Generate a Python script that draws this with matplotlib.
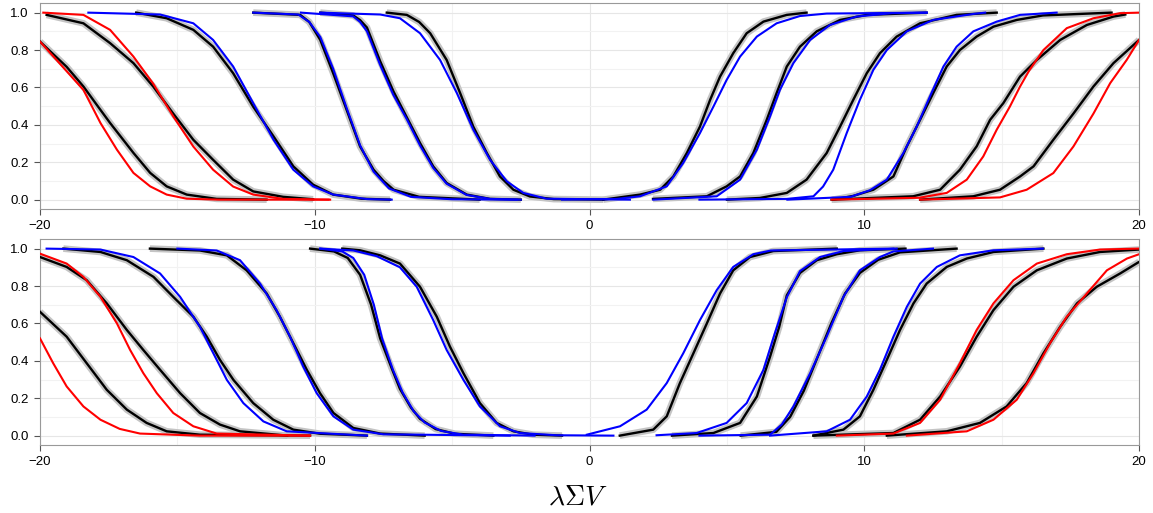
import matplotlib.pyplot as plt
import numpy as np

# curves as (x, y) points
# ---- top panel ----
top_a_black = [(-20, .845), (-19.03, .71), (-18.42, .605), (-17.9, .5), (-17.45, .41), (-16.6, .25),
               (-15.99, .143), (-15.39, .071), (-14.66, .027), (-13.57, .004), (-11.75, 0)]
top_a_red = [(-20, .845), (-18.42, .587), (-17.8, .41), (-17.2, .267), (-16.6, .143), (-15.99, .071),
             (-15.39, .027), (-14.66, .005), (-13.5, 0), (-9.44, 0)]
top_b_black = [(-19.76, .988), (-18.42, .943), (-17.45, .837), (-16.6, .73), (-15.88, .605), (-15.15, .46),
               (-14.42, .32), (-13.7, .213), (-12.97, .107), (-12.24, .044), (-11.15, .015), (-10.06, .002)]
top_b_red = [(-19.88, 1.0), (-18.42, .988), (-17.45, .908), (-16.6, .765), (-15.88, .62), (-15.15, .445),
             (-14.42, .284), (-13.7, .16), (-12.97, .07), (-12.24, .027), (-11.15, .004), (-9.5, 0)]
top_c_black = [(-16.5, 1.0), (-15.39, .97), (-14.42, .908), (-13.7, .818), (-12.97, .676), (-12.24, .497),
               (-11.5, .338), (-10.78, .178), (-10.06, .08), (-9.33, .027), (-8.3, .005), (-7.26, 0)]
top_c_blue = [(-18.24, 1.0), (-15.63, .99), (-14.42, .943), (-13.7, .854), (-12.97, .712), (-12.24, .516),
              (-11.5, .32), (-10.78, .16), (-10.06, .071), (-9.33, .027), (-8.1, .003), (-7.2, 0)]
top_d_black = [(-12.24, 1.0), (-10.53, .988), (-10.2, .95), (-9.8, .854), (-9.33, .676), (-8.84, .48),
               (-8.35, .284), (-7.86, .16), (-7.5, .1), (-7.13, .053), (-6.2, .015), (-4.0, 0)]
top_d_blue = [(-12.24, 1.0), (-10.6, .99), (-10.2, .95), (-9.8, .87), (-9.33, .7), (-8.84, .49),
              (-8.35, .29), (-7.86, .15), (-7.3, .06), (-6.5, .015), (-5.0, .002), (-2.65, 0)]
top_d2_black = [(-9.8, 1.0), (-8.6, .985), (-8.35, .96), (-8.1, .92), (-7.62, .74), (-7.14, .58), (-6.65, .44),
                (-6.17, .303), (-5.69, .178), (-5.2, .089), (-4.47, .027), (-3.62, .004), (-2.5, 0)]
top_d2_blue = [(-10.5, 1.0), (-8.6, .98), (-8.35, .95), (-8.1, .9), (-7.62, .72), (-7.14, .56), (-6.65, .43),
               (-6.17, .29), (-5.69, .17), (-5.2, .085), (-4.47, .025), (-3.62, .004), (-2.5, 0)]
top_e_black = [(-7.38, 1.0), (-6.65, .988), (-6.2, .95), (-5.8, .89), (-5.2, .747), (-4.71, .57), (-4.23, .39),
               (-3.74, .25), (-3.26, .124), (-2.77, .053), (-2.17, .017), (-1.3, .003), (0.5, 0)]
top_e_blue = [(-9.8, 1.0), (-7.62, .99), (-6.9, .97), (-6.17, .89), (-5.44, .747), (-4.83, .57),
              (-4.23, .374), (-3.62, .213), (-3.01, .098), (-2.41, .036), (-1.56, .005), (1.47, 0)]
top_f_black = [(0.5, 0), (1.84, .027), (2.57, .053), (3.05, .124), (3.54, .249), (4.02, .391), (4.39, .534),
               (4.75, .658), (5.23, .783), (5.72, .89), (6.33, .952), (7.18, .988), (7.9, 1.0)]
top_f_blue = [(-1.0, 0), (1.0, .004), (1.84, .018), (2.81, .071), (3.41, .196), (4.02, .356), (4.51, .498),
              (4.99, .64), (5.48, .765), (6.09, .872), (6.81, .943), (7.66, .982), (8.63, .995), (12.27, 1.0)]
top_g_black = [(2.31, .004), (4.27, .018), (4.99, .071), (5.48, .124), (5.96, .249), (6.45, .427), (6.81, .57),
               (7.18, .712), (7.66, .818), (8.27, .9), (9.12, .961), (10.09, .988), (12.27, 1.0)]
top_g_blue = [(2.32, 0), (4.63, .018), (5.48, .107), (6.09, .267), (6.57, .445), (6.93, .587), (7.42, .73),
              (8.03, .854), (8.75, .934), (9.72, .979), (11.0, .997), (12.27, 1.0)]
top_g2_black = [(5.0, 0), (6.2, .009), (7.18, .036), (7.9, .107), (8.63, .249), (9.12, .391), (9.6, .534),
                (10.09, .676), (10.57, .783), (11.18, .872), (12.03, .943), (13.36, .988), (14.82, 1.0)]
top_g2_blue = [(4.0, 0), (7.18, .004), (8.15, .018), (8.5, .07), (8.87, .16), (9.36, .356), (9.84, .534),
               (10.33, .694), (10.82, .8), (11.55, .9), (12.51, .961), (13.97, .993), (14.4, 1.0)]
top_h_black = [(8.87, 0), (9.6, .02), (10.33, .053), (11.06, .124), (11.55, .285), (12.03, .427), (12.51, .57),
               (13.0, .712), (13.48, .8), (14.09, .872), (14.7, .925), (15.55, .961), (16.5, .985), (19.0, 1.0)]
top_h_blue = [(7.2, 0), (9.5, .015), (10.2, .05), (10.82, .107), (11.42, .249), (11.91, .391), (12.39, .552),
              (12.88, .712), (13.36, .818), (13.97, .9), (14.82, .952), (15.67, .988), (17.0, 1.0)]
top_i_black = [(8.81, 0), (11.78, .018), (12.76, .053), (13.48, .16), (14.09, .285), (14.58, .427), (15.06, .516),
               (15.67, .658), (16.28, .747), (17.13, .854), (18.1, .934), (19.07, .979), (19.5, .99)]
top_i_red = [(8.81, 0), (12.0, .01), (13.0, .036), (13.73, .107), (14.33, .231), (14.82, .374), (15.3, .498),
             (15.67, .605), (16.0, .69), (16.52, .8), (17.37, .917), (18.34, .97), (19.31, .997), (20, 1.0)]
top_j_black = [(12.03, 0), (13.97, .018), (14.94, .053), (15.67, .124), (16.16, .178), (16.88, .32), (17.61, .46),
               (18.34, .605), (19.07, .73), (20, .854)]
top_j_red = [(12.03, 0), (14.94, .012), (15.91, .053), (16.88, .142), (17.61, .284), (18.34, .46), (18.95, .623),
             (19.55, .747), (20, .854)]

# ---- bottom panel ----
bot_a_black = [(-20, .662), (-19.03, .529), (-18.3, .387), (-17.57, .245), (-16.84, .139), (-16.12, .068),
               (-15.39, .023), (-14.18, .005), (-10.17, 0)]
bot_a_red = [(-20, .52), (-19.52, .387), (-19.03, .263), (-18.42, .156), (-17.8, .085), (-17.1, .036),
             (-16.36, .011), (-14.2, 0), (-10.2, 0)]
bot_b_black = [(-20, .955), (-19.03, .902), (-18.3, .831), (-17.57, .707), (-16.84, .565), (-16.24, .458),
               (-15.63, .352), (-14.9, .227), (-14.18, .121), (-13.45, .059), (-12.72, .023), (-11, 0)]
bot_b_red = [(-20, .973), (-19.03, .92), (-18.42, .849), (-17.8, .742), (-17.2, .6), (-16.72, .458),
             (-16.24, .334), (-15.75, .227), (-15.15, .121), (-14.42, .05), (-13.57, .011), (-10.17, 0)]
bot_c_black = [(-19.15, 1.0), (-17.8, .982), (-16.84, .938), (-15.87, .849), (-15.15, .742), (-14.42, .636),
               (-13.93, .529), (-13.45, .405), (-12.96, .298), (-12.24, .174), (-11.51, .085), (-10.78, .032),
               (-9.8, .01), (-8.1, 0)]
bot_c_blue = [(-19.76, 1.0), (-17.8, .995), (-16.6, .955), (-15.63, .867), (-14.9, .742), (-14.18, .582),
              (-13.69, .44), (-13.2, .298), (-12.6, .174), (-11.87, .076), (-11.02, .023), (-8.1, 0)]
bot_d_black = [(-16.0, 1.0), (-14.18, .99), (-13.2, .964), (-12.48, .884), (-11.75, .76), (-11.27, .636),
               (-10.78, .494), (-10.29, .352), (-9.81, .227), (-9.32, .121), (-8.6, .041), (-7.62, .011), (-6.0, 0)]
bot_d_blue = [(-15.0, 1.0), (-13.57, .99), (-12.72, .938), (-11.99, .813), (-11.39, .671), (-10.9, .529),
              (-10.42, .369), (-9.93, .227), (-9.32, .103), (-8.6, .032), (-7.5, .007), (-2.9, 0)]
bot_d2_black = [(-10.17, 1.0), (-9.3, .985), (-8.8, .95), (-8.35, .86), (-7.95, .7), (-7.62, .52), (-7.2, .36),
                (-6.9, .25), (-6.5, .15), (-6.17, .09), (-5.6, .035), (-4.9, .01), (-3.5, 0)]
bot_d2_blue = [(-9.8, 1.0), (-9.0, .985), (-8.6, .95), (-8.2, .86), (-7.85, .7), (-7.55, .52), (-7.15, .35),
               (-6.8, .23), (-6.4, .13), (-6.0, .07), (-5.4, .025), (-4.6, .005), (-2.0, 0)]
bot_e_black = [(-9.0, 1.0), (-8.35, .991), (-7.62, .964), (-6.9, .92), (-6.17, .796), (-5.56, .636),
               (-5.08, .476), (-4.59, .334), (-3.99, .174), (-3.38, .068), (-2.77, .023), (-2.05, .005), (-1.0, 0)]
bot_e_blue = [(-9.8, 1.0), (-8.6, .99), (-7.75, .96), (-6.9, .9), (-6.29, .796), (-5.69, .618),
              (-5.2, .458), (-4.59, .298), (-3.99, .156), (-3.26, .05), (-2.53, .014), (-1.2, .002), (0.87, 0)]
bot_f_black = [(1.1, 0), (2.32, .032), (2.81, .103), (3.29, .281), (3.78, .44), (4.27, .6), (4.75, .76),
               (5.23, .884), (5.84, .955), (6.69, .987), (9.0, 1.0)]
bot_f_blue = [(-0.1, .005), (1.11, .05), (2.08, .139), (2.81, .281), (3.41, .44), (4.02, .618), (4.63, .778),
              (5.23, .902), (5.96, .97), (6.6, .99), (11.06, 1.0)]
bot_g_black = [(3.0, 0), (4.51, .014), (5.48, .068), (6.09, .209), (6.57, .422), (6.9, .58), (7.18, .75),
               (7.66, .87), (8.27, .938), (9.0, .97), (9.84, .991), (11.5, 1.0)]
bot_g_blue = [(2.44, .002), (3.9, .014), (4.99, .068), (5.72, .174), (6.33, .352), (6.75, .55), (7.18, .74),
              (7.66, .88), (8.39, .955), (9.24, .987), (11.18, 1.0)]
bot_g2_black = [(5.5, 0), (6.8, .02), (7.3, .1), (7.8, .24), (8.3, .42), (8.8, .6), (9.3, .76), (9.84, .87),
                (10.5, .94), (11.3, .98), (13.36, 1.0)]
bot_g2_blue = [(4.0, 0), (6.57, .005), (7.0, .06), (7.42, .156), (8.03, .334), (8.63, .529), (9.24, .742),
               (9.84, .884), (10.57, .955), (11.06, .985), (12.5, 1.0)]
bot_h_black = [(8.15, 0), (9.24, .032), (9.84, .103), (10.33, .245), (10.82, .405), (11.3, .565), (11.79, .707),
               (12.27, .813), (13.0, .902), (13.73, .947), (14.7, .982), (16.52, 1.0)]
bot_h_blue = [(6.57, 0), (8.63, .023), (9.48, .085), (10.09, .209), (10.57, .352), (11.06, .529), (11.55, .689),
              (12.03, .813), (12.64, .902), (13.48, .964), (14.7, .991), (16.5, 1.0)]
bot_i_black = [(8.15, 0), (11.06, .014), (12.03, .085), (12.76, .209), (13.48, .369), (14.09, .529), (14.7, .671),
               (15.43, .796), (16.28, .884), (17.37, .947), (18.58, .982), (20, .995)]
bot_i_red = [(9.0, 0), (11.06, .011), (12.03, .068), (12.76, .192), (13.48, .387), (14.09, .565), (14.7, .707),
             (15.43, .831), (16.28, .92), (17.37, .97), (18.58, .995), (20, 1.0)]
bot_j_black = [(10.82, 0), (13.0, .023), (14.21, .068), (15.18, .156), (15.91, .281), (16.52, .44), (17.13, .582),
               (17.74, .707), (18.46, .796), (19.31, .867), (20, .929)]
bot_j_red = [(11.55, 0), (13.73, .023), (14.7, .085), (15.55, .192), (16.16, .334), (16.76, .494), (17.37, .636),
             (18.1, .76), (18.83, .884), (19.56, .947), (20, .97)]

top_black = [top_a_black, top_b_black, top_c_black, top_d_black, top_d2_black, top_e_black,
             top_f_black, top_g_black, top_g2_black, top_h_black, top_i_black, top_j_black]
top_fits = [(top_a_red, "red"), (top_b_red, "red"), (top_c_blue, "blue"), (top_d_blue, "blue"),
            (top_d2_blue, "blue"), (top_e_blue, "blue"), (top_f_blue, "blue"), (top_g_blue, "blue"),
            (top_g2_blue, "blue"), (top_h_blue, "blue"), (top_i_red, "red"), (top_j_red, "red")]
bot_black = [bot_a_black, bot_b_black, bot_c_black, bot_d_black, bot_d2_black, bot_e_black,
             bot_f_black, bot_g_black, bot_g2_black, bot_h_black, bot_i_black, bot_j_black]
bot_fits = [(bot_a_red, "red"), (bot_b_red, "red"), (bot_c_blue, "blue"), (bot_d_blue, "blue"),
            (bot_d2_blue, "blue"), (bot_e_blue, "blue"), (bot_f_blue, "blue"), (bot_g_blue, "blue"),
            (bot_g2_blue, "blue"), (bot_h_blue, "blue"), (bot_i_red, "red"), (bot_j_red, "red")]

x_ticks = [-20, -10, 0, 10, 20]
y_ticks = [0.0, 0.2, 0.4, 0.6, 0.8, 1.0]

plt.rcParams['font.family'] = ['Liberation Sans', 'DejaVu Sans']
plt.rcParams['mathtext.fontset'] = 'cm'

fig = plt.figure(figsize=(11.53, 5.13), dpi=100)
ax_top = fig.add_axes([0.0347, 0.5926, 0.9532, 0.401])
ax_bot = fig.add_axes([0.0347, 0.1326, 0.9532, 0.401])


def draw_panel(ax, blacks, fits):
    # grey band under each simulated curve, then the curve, then the fits
    for c in blacks:
        pts = np.array(c)
        ax.plot(pts[:, 0], pts[:, 1], color="#c4c4c4", lw=4.8, solid_capstyle="butt",
                solid_joinstyle="round", zorder=2)
    for c in blacks:
        pts = np.array(c)
        ax.plot(pts[:, 0], pts[:, 1], color="black", lw=1.7, solid_joinstyle="round", zorder=3)
    for c, col in fits:
        pts = np.array(c)
        ax.plot(pts[:, 0], pts[:, 1], color=col, lw=1.5, solid_joinstyle="round", zorder=4)

    ax.set_xlim(-20, 20)
    ax.set_ylim(-0.05, 1.05)
    ax.set_xticks(x_ticks)
    ax.set_xticklabels(["\u221220", "\u221210", "0", "10", "20"])
    ax.set_yticks(y_ticks)
    ax.set_yticklabels(["%.1f" % v for v in y_ticks])
    ax.set_xticks(np.arange(-15, 20, 10), minor=True)
    ax.set_yticks(np.arange(0.1, 1.0, 0.2), minor=True)
    ax.grid(True, which="major", color="#e6e6e6", lw=0.8, zorder=0)
    ax.grid(True, which="minor", color="#f2f2f2", lw=0.8, zorder=0)
    ax.tick_params(which="minor", length=0)
    ax.tick_params(which="major", length=4, color="#555555", labelsize=9.5, pad=4)
    for s in ax.spines.values():
        s.set_color("#999999")
        s.set_linewidth(0.8)
    ax.set_axisbelow(True)


draw_panel(ax_top, top_black, top_fits)
draw_panel(ax_bot, bot_black, bot_fits)

fig.text(0.501, 0.03, r"$\lambda\Sigma V$", ha="center", va="center", fontsize=20)

fig.savefig("out.png", dpi=100)
